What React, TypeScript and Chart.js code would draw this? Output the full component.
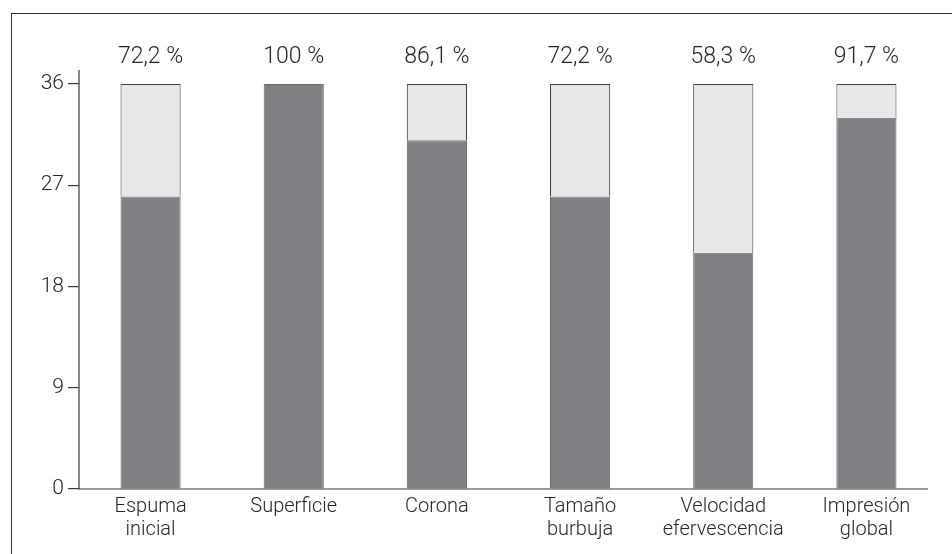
import React, { useEffect, useRef } from "react";
import { Chart, registerables } from "chart.js";

Chart.register(...registerables);

// Attribute names and the number of panellists (out of 36) who rated each positively
const categories: (string | string[])[] = [
  ["Espuma", "inicial"],
  "Superficie",
  "Corona",
  ["Tamaño", "burbuja"],
  ["Velocidad", "efervescencia"],
  ["Impresión", "global"],
];
const totalPanel = 36;
const positiveScores = [26, 36, 31, 26, 21, 33];
const yTicks = [0, 9, 18, 27, 36];

const remainderScores = positiveScores.map((v) => totalPanel - v);
const percentLabels = positiveScores.map((v) => {
  const p = Math.round((v / totalPanel) * 1000) / 10;
  return (Number.isInteger(p) ? String(p) : p.toFixed(1).replace(".", ",")) + " %";
});

const FONT = "Roboto, 'Liberation Sans', Arial, sans-serif";
const TEXT = "#262626";
const AXIS = "#3a3a3a";

// Percentages above each stacked column
const percentLabelPlugin = {
  id: "percentLabels",
  afterDatasetsDraw(chart: any) {
    const { ctx } = chart;
    const yScale = chart.scales.y;
    const meta = chart.getDatasetMeta(1);
    ctx.save();
    ctx.font = `300 23px ${FONT}`;
    ctx.fillStyle = TEXT;
    ctx.textAlign = "center";
    ctx.textBaseline = "middle";
    meta.data.forEach((bar: any, i: number) => {
      ctx.fillText(percentLabels[i], bar.x, yScale.getPixelForValue(totalPanel) - 27);
    });
    ctx.restore();
  },
};

// Axis lines: the vertical one spans the full plot height, the baseline stops short of the right edge
const axisLinePlugin = {
  id: "axisLines",
  afterDraw(chart: any) {
    const { ctx, chartArea } = chart;
    const y0 = chart.scales.y.getPixelForValue(0);
    ctx.save();
    ctx.strokeStyle = AXIS;
    ctx.lineWidth = 1.2;
    ctx.beginPath();
    ctx.moveTo(chartArea.left, chartArea.top);
    ctx.lineTo(chartArea.left, y0);
    ctx.lineTo(chartArea.right - 10, y0);
    ctx.stroke();
    ctx.restore();
  },
};

export default function App() {
  const canvasRef = useRef<HTMLCanvasElement | null>(null);

  useEffect(() => {
    document.body.style.margin = "0";
    const canvas = canvasRef.current;
    if (!canvas) return;
    const chart = new Chart(canvas, {
      type: "bar",
      data: {
        labels: categories,
        datasets: [
          {
            label: "Positiva",
            data: positiveScores,
            backgroundColor: "#808184",
            borderColor: "#6a6b6e",
            borderWidth: 1,
            borderSkipped: "bottom",
            categoryPercentage: 1,
            barPercentage: 0.42,
          },
          {
            label: "Resto",
            data: remainderScores,
            backgroundColor: "#e6e7e8",
            borderColor: "#3c3c3e",
            borderWidth: 1,
            borderSkipped: "bottom",
            categoryPercentage: 1,
            barPercentage: 0.42,
          },
        ],
      },
      options: {
        responsive: false,
        animation: false,
        layout: { padding: { left: 0, right: 14, top: 70, bottom: 0 } },
        plugins: {
          legend: { display: false },
          tooltip: { enabled: false },
        },
        scales: {
          x: {
            stacked: true,
            grid: { display: false, drawTicks: false },
            border: { display: false },
            ticks: {
              color: TEXT,
              padding: 6,
              font: { family: FONT, size: 20, weight: 300, lineHeight: 1.15 },
              maxRotation: 0,
              autoSkip: false,
            },
            afterFit(scale: any) {
              scale.height = 65;
            },
          },
          y: {
            stacked: true,
            min: 0,
            max: 37.24,
            afterBuildTicks(scale: any) {
              scale.ticks = yTicks.map((v) => ({ value: v }));
            },
            grid: {
              drawOnChartArea: false,
              drawTicks: true,
              tickLength: 11,
              color: AXIS,
              lineWidth: 1.2,
            },
            border: { display: false },
            ticks: {
              color: TEXT,
              padding: 4,
              font: { family: FONT, size: 21, weight: 300 },
            },
            afterFit(scale: any) {
              scale.width = 79;
            },
          },
        },
      },
      plugins: [percentLabelPlugin, axisLinePlugin],
    });
    return () => chart.destroy();
  }, []);

  return (
    <div style={{ position: "relative", width: 952, height: 554, background: "#fff", overflow: "hidden" }}>
      <div
        style={{
          position: "absolute",
          left: 11,
          top: 13,
          width: 960,
          height: 560,
          borderTop: "1.5px solid #333",
          borderLeft: "1.5px solid #333",
        }}
      />
      <canvas ref={canvasRef} width={952} height={554} style={{ position: "absolute", left: 0, top: 0 }} />
    </div>
  );
}
